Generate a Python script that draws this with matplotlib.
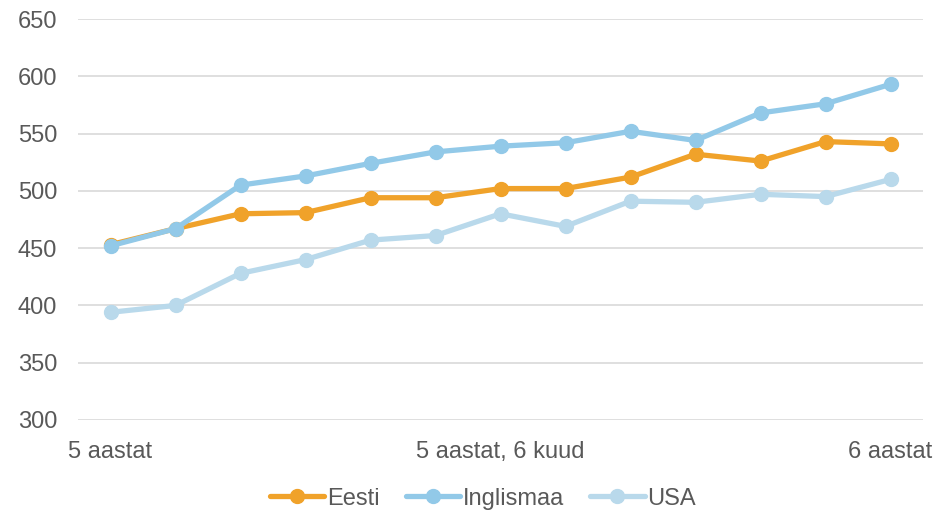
import matplotlib.pyplot as plt
import numpy as np

plt.rcParams['font.family'] = ['Liberation Sans', 'DejaVu Sans']

series = ['Eesti', 'Inglismaa', 'USA']
eesti = [453, 467, 480, 481, 494, 494, 502, 502, 512, 532, 526, 543, 541]
inglismaa = [452, 467, 505, 513, 524, 534, 539, 542, 552, 544, 568, 576, 593]
usa = [394, 400, 428, 440, 457, 461, 480, 469, 491, 490, 497, 495, 510]
tick_pos = [0, 6, 12]
tick_labels = ['5 aastat', '5 aastat, 6 kuud', '6 aastat']
colors = ['#F0A22A', '#92C9E8', '#B9D9EB']

fig = plt.figure(figsize=(9.38, 5.13), dpi=100)
ax = fig.add_axes([78 / 938, 1 - 420 / 513, 845 / 938, 401 / 513])

x = np.arange(len(eesti))
for vals, name, c in zip([eesti, inglismaa, usa], series, colors):
    ax.plot(x, vals, color=c, lw=3.8, marker='o', markersize=10,
            label=name, solid_capstyle='round')

ax.set_xlim(-0.5, len(eesti) - 0.5)
ax.set_ylim(300, 650)
ax.set_yticks(np.arange(300, 651, 50))
ax.set_xticks(tick_pos)
ax.set_xticklabels(tick_labels)
ax.grid(axis='y', color='#D9D9D9', lw=1.2)
ax.set_axisbelow(True)
for s in ax.spines.values():
    s.set_visible(False)
ax.tick_params(length=0, labelsize=17, labelcolor='#595959')
ax.tick_params(axis='y', pad=15)
ax.tick_params(axis='x', pad=15)

fig.legend(loc='lower center', ncol=3, frameon=False, fontsize=17,
           bbox_to_anchor=(0.515, -0.035), handlelength=2.3,
           handletextpad=0.12, columnspacing=1.1, labelcolor='#595959')

fig.savefig('out.png', dpi=100)
